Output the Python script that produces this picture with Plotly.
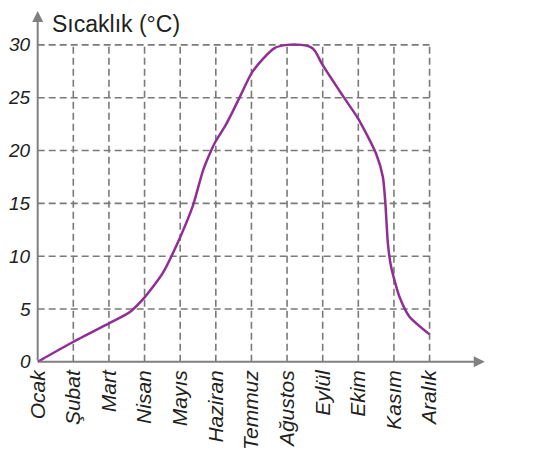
import plotly.graph_objects as go

# ---- data ----
months = ["Ocak", "Şubat", "Mart", "Nisan", "Mayıs", "Haziran", "Temmuz",
          "Ağustos", "Eylül", "Ekim", "Kasım", "Aralık"]
y_ticks = [0, 5, 10, 15, 20, 25, 30]
y_tick_labels = ["0", "5", "10", "15", "20", "25", "30"]

# position along the month axis (0 = Ocak ... 11 = Aralık) and temperature (°C)
month_pos = [0, 1, 2, 2.58, 3, 3.51, 4, 4.36, 4.64, 4.87, 5.0, 5.26, 5.49, 5.72,
             6.0, 6.33, 6.65, 7.0, 7.4, 7.65, 7.79, 7.98, 8.58, 9.0, 9.5, 9.69,
             9.76, 9.83, 9.92, 10.15, 10.43, 11.0]
temperature = [0, 1.9, 3.65, 4.7, 6.1, 8.4, 11.8, 14.8, 18.1, 20.0, 20.9, 22.3,
               23.8, 25.4, 27.3, 28.7, 29.7, 30.0, 30.0, 29.8, 29.4, 28.2, 25.1,
               23.0, 19.7, 17.5, 15.0, 11.2, 9.0, 6.2, 4.3, 2.6]

y_title = "Sıcaklık (°C)"
x_title = "Aylar"

FONT = "Liberation Sans, Arial, sans-serif"
TEXT = "#231f20"
GRID = "#7a7a7a"
AXIS = "#808080"
CURVE = "#912e95"

fig = go.Figure()
fig.add_trace(go.Scatter(
    x=month_pos, y=temperature, mode="lines",
    line=dict(color=CURVE, width=2.5, shape="spline", smoothing=0.6),
    hoverinfo="skip", showlegend=False, cliponaxis=False,
))

shapes = []
n = len(months)
# horizontal dashed grid lines
for v in y_ticks[1:]:
    shapes.append(dict(type="line", xref="x", yref="y", x0=0, x1=n - 1, y0=v, y1=v,
                       line=dict(color=GRID, width=1.6, dash="7px,4px"), layer="below"))
# vertical dashed grid lines
for i in range(1, n):
    shapes.append(dict(type="line", xref="x", yref="y", x0=i, x1=i, y0=0, y1=max(y_ticks),
                       line=dict(color=GRID, width=1.6, dash="7px,4px"), layer="below"))

annotations = []
# axes with arrows
annotations.append(dict(x=0, y=33.2, ax=0, ay=0, xref="x", yref="y", axref="x", ayref="y",
                        text="", showarrow=True, arrowhead=2, arrowsize=1.1,
                        arrowwidth=2, arrowcolor=AXIS))
annotations.append(dict(x=12.55, y=0, ax=0, ay=0, xref="x", yref="y", axref="x", ayref="y",
                        text="", showarrow=True, arrowhead=2, arrowsize=1.1,
                        arrowwidth=2, arrowcolor=AXIS))
# y tick labels
for v, lab in zip(y_ticks, y_tick_labels):
    annotations.append(dict(x=0, y=v, xref="x", yref="y", text=lab, showarrow=False,
                            xanchor="right", yanchor="middle", xshift=-5,
                            font=dict(family=FONT, size=19, color=TEXT, style="italic")))
# axis titles
annotations.append(dict(x=0, y=33.3, xref="x", yref="y", text=y_title, showarrow=False,
                        xanchor="left", yanchor="top", xshift=12, yshift=1,
                        font=dict(family=FONT, size=23, color=TEXT)))
annotations.append(dict(x=12.6, y=0, xref="x", yref="y", text=x_title, showarrow=False,
                        xanchor="left", yanchor="middle", xshift=2,
                        font=dict(family=FONT, size=23, color=TEXT)))

fig.update_layout(
    width=539, height=451,
    margin=dict(l=19, r=64, t=2, b=94),
    paper_bgcolor="white", plot_bgcolor="white",
    shapes=shapes, annotations=annotations,
    xaxis=dict(range=[-0.3, 12.5], showgrid=False, zeroline=False, showline=False,
               tickmode="array", tickvals=list(range(n)), ticktext=months,
               tickangle=-90, ticks="", automargin=False,
               tickfont=dict(family=FONT, size=21, color=TEXT, style="italic")),
    yaxis=dict(range=[-0.3, 33.3], showgrid=False, zeroline=False, showline=False,
               showticklabels=False, ticks="", automargin=False),
)

fig.write_html("out.html")
